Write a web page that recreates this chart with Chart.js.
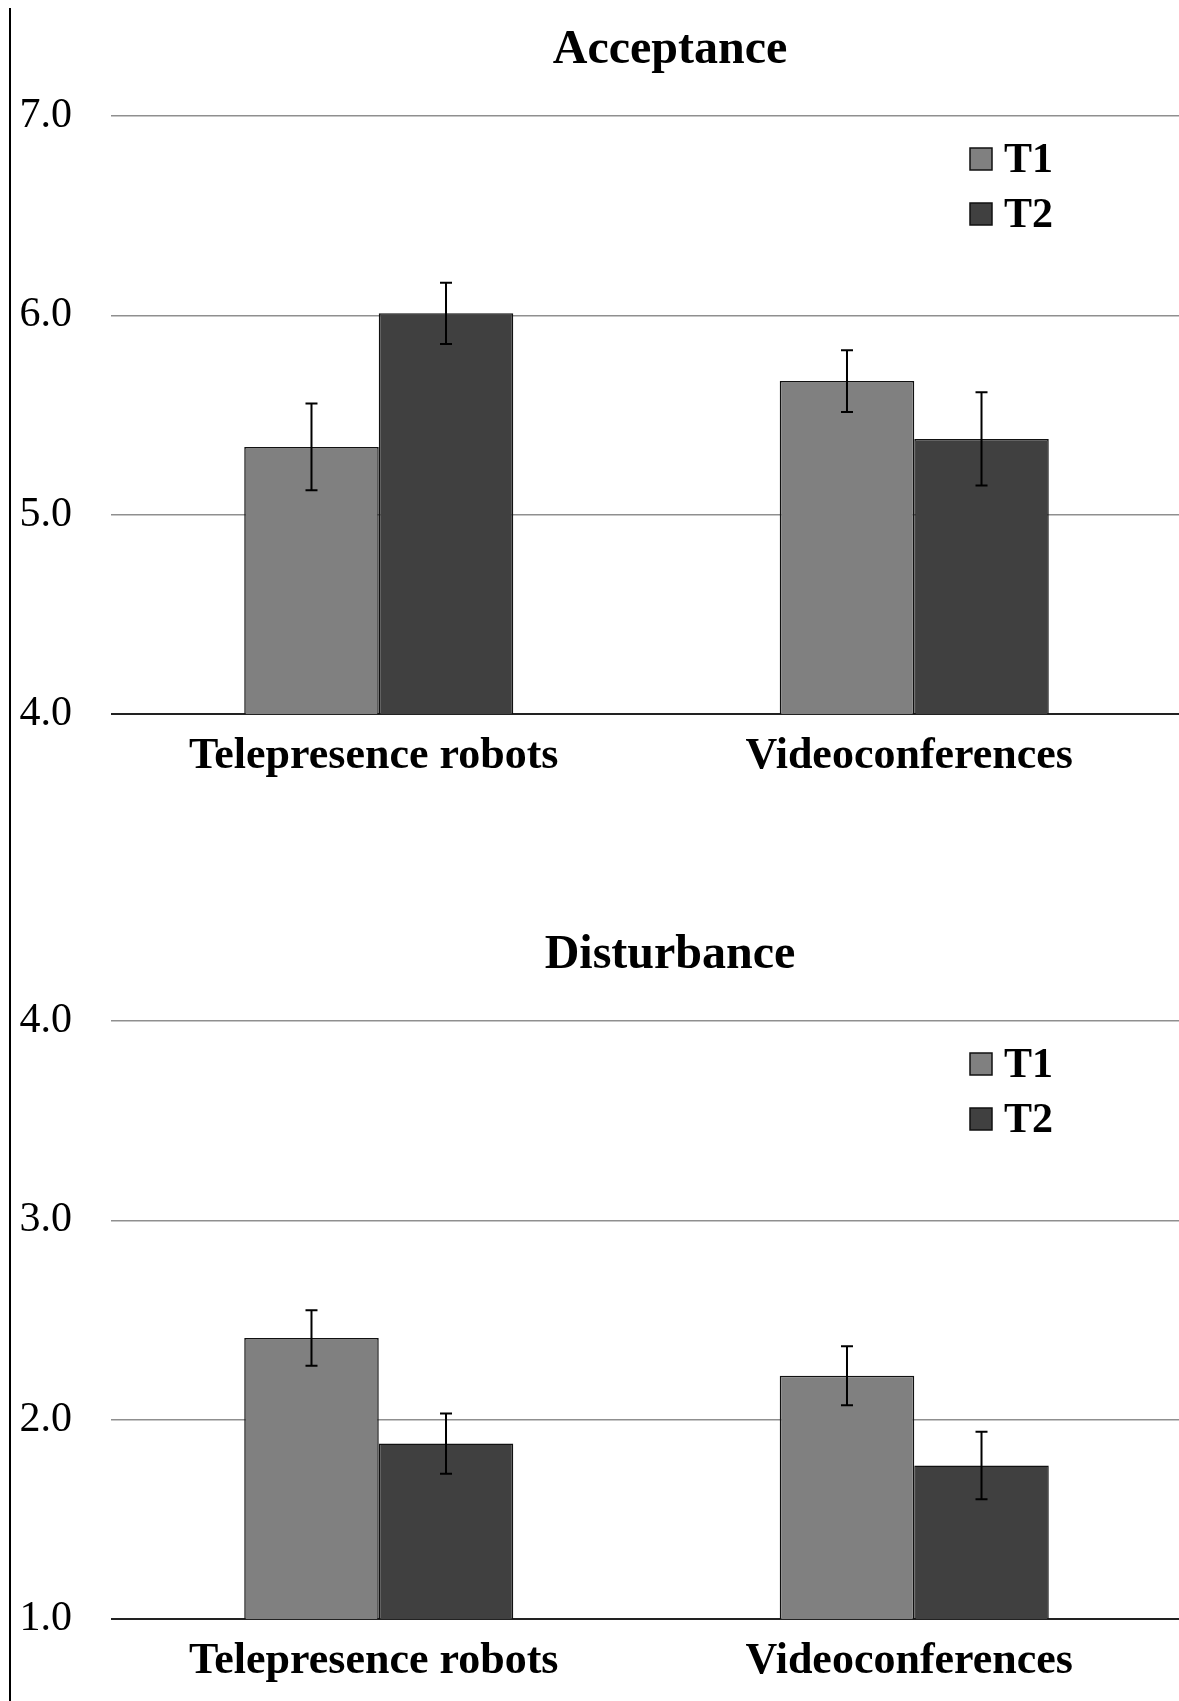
<!DOCTYPE html>
<html>
<head>
<meta charset="utf-8">
<script src="https://cdn.jsdelivr.net/npm/chart.js@4.4.1/dist/chart.umd.min.js"></script>
<style>
  html, body { margin: 0; padding: 0; background: #fff; }
  body { width: 1179px; height: 1701px; overflow: hidden; position: relative; }
  .frame { position: absolute; left: 9px; top: 8px; width: 2px; height: 1693px; background: #000; }
  canvas { position: absolute; left: 0; }
  #acc { top: 0; }
  #dis { top: 905px; }
</style>
</head>
<body>
<div class="frame"></div>
<canvas id="acc" width="1182" height="850"></canvas>
<canvas id="dis" width="1182" height="850"></canvas>
<script>
// ====== DATA ======
const categories = ["Telepresence robots", "Videoconferences"];
const seriesNames = ["T1", "T2"];

const accT1 = [5.34, 5.67];
const accT2 = [6.01, 5.38];
const accErrT1 = [0.218, 0.155];
const accErrT2 = [0.154, 0.234];
const accTicks = [4, 5, 6, 7];

const disT1 = [2.41, 2.22];
const disT2 = [1.88, 1.77];
const disErrT1 = [0.139, 0.148];
const disErrT2 = [0.151, 0.169];
const disTicks = [1, 2, 3, 4];

const colors = ["#808080", "#404040"];
const serif = "'Liberation Serif', 'Times New Roman', serif";

// ====== PLUGINS ======
// title, legend inside plot, error bars
const overlay = {
  id: "overlay",
  afterDatasetsDraw(chart, args, opts) {
    const ctx = chart.ctx;
    const area = chart.chartArea;
    const y = chart.scales.y;
    ctx.save();

    // error bars
    ctx.strokeStyle = "#000";
    ctx.lineWidth = 2;
    chart.data.datasets.forEach((ds, di) => {
      const meta = chart.getDatasetMeta(di);
      meta.data.forEach((bar, i) => {
        const v = ds.data[i], e = ds.err[i];
        const top = y.getPixelForValue(v + e);
        const bot = y.getPixelForValue(v - e);
        ctx.beginPath();
        ctx.moveTo(bar.x, top); ctx.lineTo(bar.x, bot);
        ctx.moveTo(bar.x - 6, top); ctx.lineTo(bar.x + 6, top);
        ctx.moveTo(bar.x - 6, bot); ctx.lineTo(bar.x + 6, bot);
        ctx.stroke();
      });
    });

    // title
    ctx.fillStyle = "#000";
    ctx.font = "bold 48px " + serif;
    ctx.textAlign = "center";
    ctx.textBaseline = "alphabetic";
    ctx.fillText(opts.title, 670, area.top - 53);

    // legend
    ctx.font = "bold 42px " + serif;
    ctx.textAlign = "left";
    chart.data.datasets.forEach((ds, di) => {
      const bx = area.right - 212, by = area.top + 32 + di * 55;
      ctx.fillStyle = ds.backgroundColor;
      ctx.fillRect(bx, by, 22, 22);
      ctx.lineWidth = 1.5;
      ctx.strokeStyle = "#111";
      ctx.strokeRect(bx, by, 22, 22);
      ctx.fillStyle = "#000";
      ctx.fillText(ds.label, bx + 34, by + 24);
    });
    ctx.restore();
  }
};

function makeChart(el, title, t1, t2, e1, e2, ticks) {
  return new Chart(el, {
    type: "bar",
    data: {
      labels: categories,
      datasets: [
        { label: seriesNames[0], data: t1, err: e1, backgroundColor: colors[0] },
        { label: seriesNames[1], data: t2, err: e2, backgroundColor: colors[1] }
      ]
    },
    options: {
      responsive: false,
      animation: false,
      devicePixelRatio: 1,
      layout: { padding: { top: 116, left: 0, right: 0, bottom: 0 } },
      datasets: {
        bar: {
          borderColor: "#111",
          borderWidth: 1.5,
          barPercentage: 1,
          categoryPercentage: 0.5024
        }
      },
      plugins: {
        legend: { display: false },
        tooltip: { enabled: false },
        overlay: { title }
      },
      scales: {
        x: {
          grid: { display: false },
          border: { display: false },
          ticks: {
            color: "#000",
            padding: 8,
            labelOffset: -5,
            font: { family: serif, size: 44, weight: "bold" }
          },
          afterFit: s => { s.height = 136; }
        },
        y: {
          min: ticks[0],
          max: ticks[ticks.length - 1],
          afterBuildTicks: s => { s.ticks = ticks.map(v => ({ value: v })); },
          border: { display: false },
          grid: {
            drawTicks: false,
            color: c => c.tick.value === ticks[0] ? "#222" : "#8f8f8f",
            lineWidth: c => c.tick.value === ticks[0] ? 2 : 1.5
          },
          ticks: {
            color: "#000",
            padding: 39,
            font: { family: serif, size: 42 },
            callback: v => Number(v).toFixed(1)
          },
          afterFit: s => { s.width = 111; }
        }
      }
    },
    plugins: [overlay]
  });
}

makeChart(document.getElementById("acc"), "Acceptance", accT1, accT2, accErrT1, accErrT2, accTicks);
makeChart(document.getElementById("dis"), "Disturbance", disT1, disT2, disErrT1, disErrT2, disTicks);
</script>
</body>
</html>
